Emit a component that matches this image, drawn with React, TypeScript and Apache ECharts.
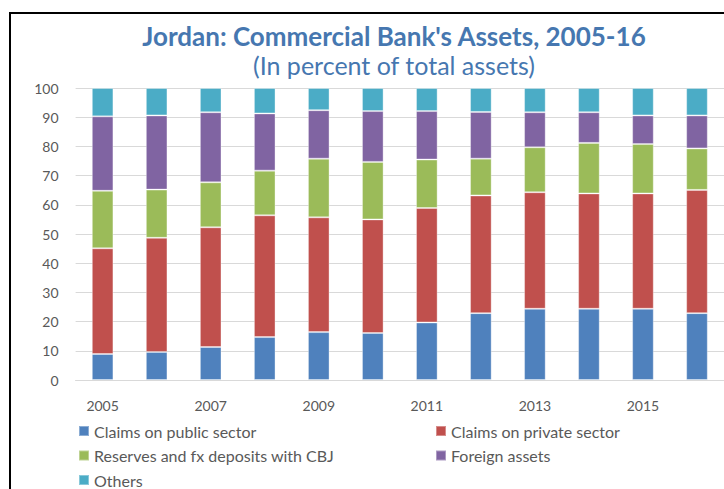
import React, { useEffect, useRef } from "react";
import * as echarts from "echarts";

const years = ["2005","2006","2007","2008","2009","2010","2011","2012","2013","2014","2015","2016"];
const publicSector = [8.9, 9.6, 11.3, 14.7, 16.4, 16.1, 19.7, 22.9, 24.4, 24.4, 24.4, 22.9];
const privateSector = [36.2, 39.1, 41.0, 41.7, 39.3, 38.9, 39.2, 40.3, 39.9, 39.5, 39.5, 42.2];
const reserves = [19.7, 16.5, 15.4, 15.3, 20.1, 19.7, 16.6, 12.6, 15.4, 17.3, 16.9, 14.2];
const foreign = [25.5, 25.4, 24.0, 19.6, 16.6, 17.4, 16.6, 16.0, 12.0, 10.5, 9.8, 11.3];
const others = [9.7, 9.4, 8.3, 8.7, 7.6, 7.9, 7.9, 8.2, 8.3, 8.3, 9.4, 9.4];

const seriesNames = [
  "Claims on public sector",
  "Claims on private sector",
  "Reserves and fx deposits with CBJ",
  "Foreign assets",
  "Others",
];
const seriesData = [publicSector, privateSector, reserves, foreign, others];
const colors = ["#4F81BD", "#C0504D", "#9BBB59", "#8064A2", "#4BACC6"];

const FONT = "Lato, 'Open Sans', sans-serif";

export default function App() {
  const ref = useRef<HTMLDivElement>(null);
  useEffect(() => {
    if (!ref.current) return;
    const chart = echarts.init(ref.current, undefined, { renderer: "svg" });
    const legendText = { fontFamily: FONT, fontSize: 16, color: "#595959" };
    chart.setOption({
      animation: false,
      color: colors,
      textStyle: { fontFamily: FONT },
      title: {
        text: "Jordan: Commercial Bank's Assets, 2005-16",
        subtext: "(In percent of total assets)",
        left: 394,
        textAlign: "center",
        top: 23,
        padding: 0,
        itemGap: 3,
        textStyle: { fontFamily: FONT, fontSize: 26, fontWeight: "bold", color: "#4677B0" },
        subtextStyle: { fontFamily: FONT, fontSize: 25, color: "#4677B0" },
      },
      graphic: [
        {
          type: "rect",
          shape: { x: 10, y: 13, width: 800, height: 600 },
          style: { fill: "none", stroke: "#000", lineWidth: 2 },
          silent: true,
        },
      ],
      legend: [
        {
          orient: "vertical",
          left: 78,
          top: 423,
          height: 120,
          padding: 0,
          itemWidth: 10,
          itemHeight: 10,
          itemGap: 8.5,
          icon: "rect",
          data: [seriesNames[0], seriesNames[2], seriesNames[4]],
          textStyle: legendText,
        },
        {
          orient: "vertical",
          left: 435,
          top: 423,
          height: 120,
          padding: 0,
          itemWidth: 10,
          itemHeight: 10,
          itemGap: 8.5,
          icon: "rect",
          data: [seriesNames[1], seriesNames[3]],
          textStyle: legendText,
        },
      ],
      grid: { left: 75.6, right: -9, top: 88, bottom: 109, containLabel: false },
      xAxis: {
        type: "category",
        data: years,
        axisLine: { lineStyle: { color: "#D9D9D9", width: 1 } },
        axisTick: { show: false },
        axisLabel: { interval: 1, color: "#595959", fontSize: 14, margin: 18, fontFamily: FONT },
      },
      yAxis: {
        type: "value",
        min: 0,
        max: 100,
        interval: 10,
        axisLine: { show: false },
        axisTick: { show: false },
        axisLabel: { color: "#595959", fontSize: 14, margin: 17, fontFamily: FONT },
        splitLine: { lineStyle: { color: "#D9D9D9", width: 1 } },
      },
      series: seriesNames.map((name, i) => ({
        name,
        type: "bar",
        stack: "total",
        barWidth: "40%",
        data: seriesData[i],
        itemStyle: { borderColor: "rgba(255,255,255,0.35)", borderWidth: 1 },
      })),
    });
    return () => chart.dispose();
  }, []);
  return (
    <div
      ref={ref}
      style={{ position: "fixed", left: 0, top: 0, width: 724, height: 489, background: "#fff" }}
    />
  );
}
